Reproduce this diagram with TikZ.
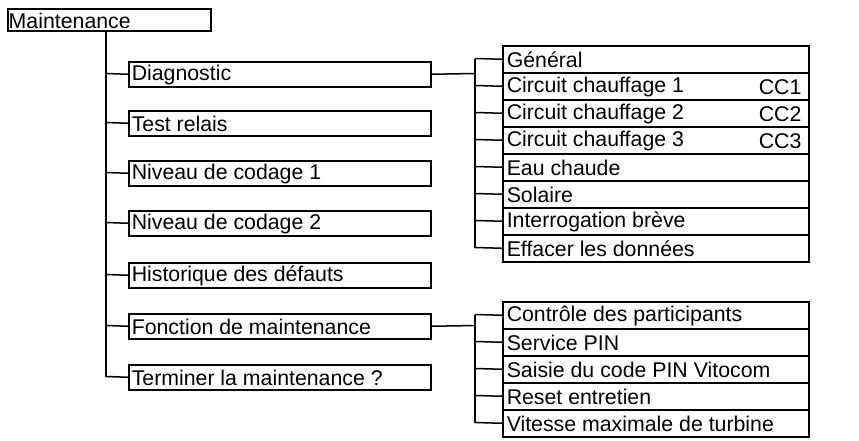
\documentclass[tikz,border=0pt]{standalone}
\usepackage{fontspec}
\setmainfont{Liberation Sans}
\begin{document}
\begin{tikzpicture}[x=1pt,y=-1pt,line width=1.5pt,
  bx/.style={draw,anchor=north west,minimum height=#1,inner sep=0pt,text depth=0pt},
  lbl/.style={anchor=west,inner sep=0pt,font=\fontsize{21.3}{24}\selectfont}]
\useasboundingbox (0,0) rectangle (859,440);
\node[bx=22pt,minimum width=203pt] (m) at (7,8) {};
\node[lbl] at (8,20.5) {Maintenance};
\foreach \n/\t/\y in {d/Diagnostic/61,t/Test relais/110,n1/Niveau de codage 1/160,n2/Niveau de codage 2/210,h/Historique des défauts/262,f/Fonction de maintenance/313,e/Terminer la maintenance ?/364}{
  \node[bx=25pt,minimum width=302pt] (\n) at (128,\y) {};
  \node[lbl] at (131,\y+14) {\t};
  \draw (106,\y+12.5) -- (\n.west);
}
\draw (106,30) -- (106,376.5);
% block 1
\foreach \t/\c [count=\i from 0] in {Général/,Circuit chauffage 1/CC1,Circuit chauffage 2/CC2,Circuit chauffage 3/CC3,Eau chaude/,Solaire/,Interrogation brève/,Effacer les données/}{
  \node[bx=27pt,minimum width=306pt] (r\i) at (502,45+27*\i) {};
  \node[lbl] at (506,60+27*\i) {\t};
  \node[lbl] at (758,60+27*\i) {\c};
  \draw (475,58.5+27*\i) -- (r\i.west);
}
\draw (475,58.5) -- (475,247.5);
\draw (d.east) -- (475,73.5);
% block 2
\foreach \t [count=\i from 0] in {Contrôle des participants,Service PIN,Saisie du code PIN Vitocom,Reset entretien,Vitesse maximale de turbine}{
  \node[bx=27pt,minimum width=306pt] (s\i) at (502,301+27*\i) {};
  \node[lbl] at (506,316+27*\i) {\t};
  \draw (475,314.5+27*\i) -- (s\i.west);
}
\draw (475,314.5) -- (475,422.5);
\draw (f.east) -- (475,325.5);
\end{tikzpicture}
\end{document}
